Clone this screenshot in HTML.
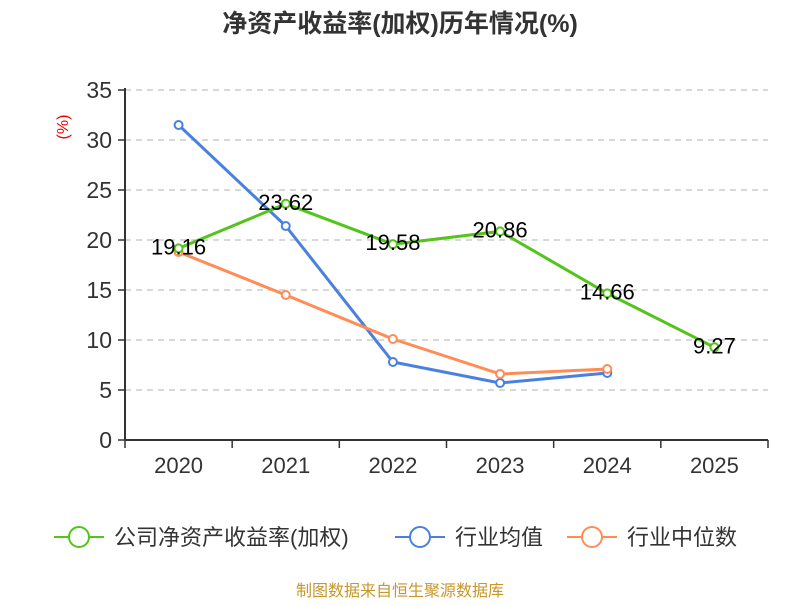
<!DOCTYPE html>
<html><head><meta charset="utf-8"><style>
body{margin:0;background:#fff;width:800px;height:600px;overflow:hidden;font-family:"Liberation Sans","Noto Sans CJK SC",sans-serif}
</style></head><body>
<svg id="c" width="800" height="600" xmlns="http://www.w3.org/2000/svg" font-family="Liberation Sans, Noto Sans CJK SC, sans-serif">
<text x="400" y="32" text-anchor="middle" font-size="25" font-weight="bold" fill="#333">净资产收益率(加权)历年情况(%)</text>
<text transform="translate(68,127) rotate(-90)" text-anchor="middle" font-size="16" fill="#e00">(%)</text>
<g id="grid"></g><g id="axes"></g><g id="series"></g>
<g font-size="22" fill="#333">
<g><line x1="54" y1="537" x2="104" y2="537" stroke="#52c41a" stroke-width="2"/><circle cx="79" cy="537" r="10" fill="#fff" stroke="#52c41a" stroke-width="2"/><text x="114" y="545">公司净资产收益率(加权)</text></g>
<g><line x1="395" y1="537" x2="445" y2="537" stroke="#4a80e0" stroke-width="2"/><circle cx="420" cy="537" r="10" fill="#fff" stroke="#4a80e0" stroke-width="2"/><text x="455" y="545">行业均值</text></g>
<g><line x1="567" y1="537" x2="617" y2="537" stroke="#ff8c55" stroke-width="2"/><circle cx="592" cy="537" r="10" fill="#fff" stroke="#ff8c55" stroke-width="2"/><text x="627" y="545">行业中位数</text></g>
</g>
<text x="400" y="596" text-anchor="middle" font-size="16" fill="#c8962a">制图数据来自恒生聚源数据库</text>
</svg>
<script>
const categories=["2020","2021","2022","2023","2024","2025"];
const companyValues=[19.16,23.62,19.58,20.86,14.66,9.27];
const avgValues=[31.5,21.4,7.8,5.7,6.7];
const medianValues=[18.8,14.5,10.1,6.6,7.1];
const yTicks=[0,5,10,15,20,25,30,35];
const NS="http://www.w3.org/2000/svg";
const L=125,R=768,T=90,B=440,yMax=35;
const bw=(R-L)/categories.length;
const x=i=>L+bw*(i+0.5);
const y=v=>B-(v/yMax)*(B-T);
function mk(tag,attrs,parent,txt){const e=document.createElementNS(NS,tag);for(const k in attrs)e.setAttribute(k,attrs[k]);if(txt!==undefined)e.textContent=txt;parent.appendChild(e);return e;}
const grid=document.getElementById('grid'),axes=document.getElementById('axes'),series=document.getElementById('series');
yTicks.forEach(t=>{
 if(t>0){const g=mk('line',{x1:L,x2:R,y1:y(t),y2:y(t),stroke:'#ccc','stroke-dasharray':'6,5','stroke-width':1.5},grid);
 }
 const tk=mk('line',{x1:L-7,x2:L,y1:y(t),y2:y(t),stroke:'#333','stroke-width':1.5},axes);
 
 const lb=mk('text',{x:L-13,y:y(t)+8,'text-anchor':'end','font-size':23,fill:'#333'},axes,String(t));
 
});
const ya=mk('line',{x1:L,x2:L,y1:T-2,y2:B,stroke:'#333','stroke-width':2},axes);

const xa=mk('line',{x1:L,x2:R,y1:B,y2:B,stroke:'#333','stroke-width':2},axes);

for(let i=0;i<=categories.length;i++){const tk=mk('line',{x1:L+bw*i,x2:L+bw*i,y1:B,y2:B+8,stroke:'#333','stroke-width':1.5},axes);
 }
categories.forEach((c,i)=>{const lb=mk('text',{x:x(i),y:B+33,'text-anchor':'middle','font-size':22,fill:'#333'},axes,c);
 });
function drawSeries(vals,color,name,labels){
 const g=mk('g',{},series);
 const pl=mk('polyline',{points:vals.map((v,i)=>x(i)+','+y(v)).join(' '),fill:'none',stroke:color,'stroke-width':3,'stroke-linejoin':'round'},g);
 
 vals.forEach((v,i)=>{const p=mk('circle',{cx:x(i),cy:y(v),r:4,fill:'#fff',stroke:color,'stroke-width':2},g);
  
  if(labels){const t=mk('text',{x:x(i),y:y(v)+6,'text-anchor':'middle','font-size':22,fill:'#000'},g,v.toFixed(2));
   }});
}
drawSeries(avgValues,'#4a80e0','industry-avg-series',false);
drawSeries(medianValues,'#ff8c55','industry-median-series',false);
drawSeries(companyValues,'#52c41a','company-series',true);
</script>
</body></html>
